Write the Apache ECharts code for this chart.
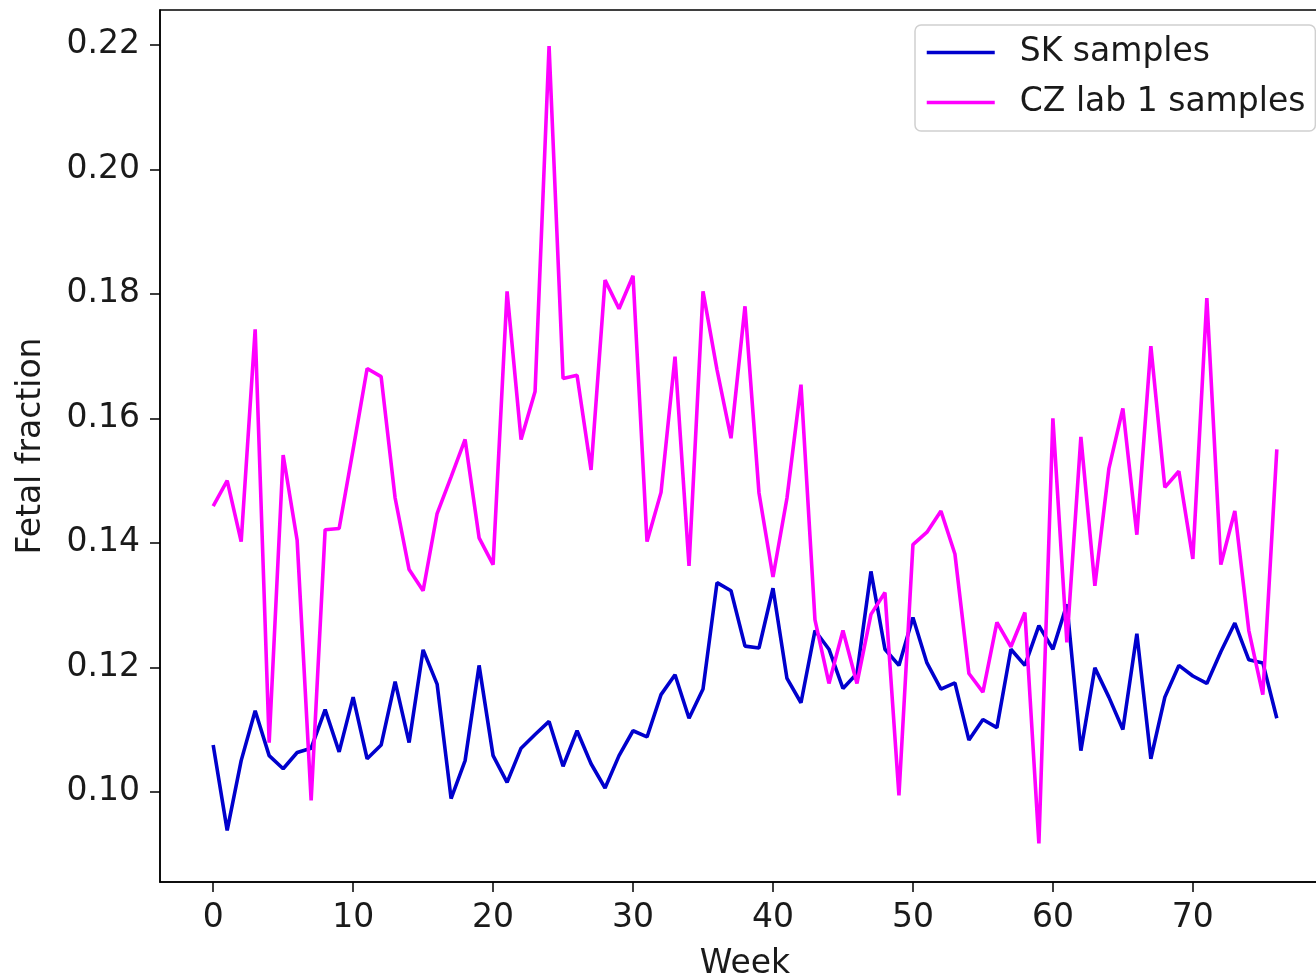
<!DOCTYPE html>
<html>
<head>
<meta charset="utf-8">
<script src="https://cdn.jsdelivr.net/npm/echarts@6/dist/echarts.min.js"></script>
<style>
  html, body { margin: 0; padding: 0; background: #fff; overflow: hidden; }
  /* the plot frame runs a little past the right edge of the window */
  #chart { width: 1332px; height: 979px; }
</style>
</head>
<body>
<div id="chart"></div>
<script>
// Weekly fetal fraction, two sample sources
const weeks = Array.from({ length: 77 }, (_, i) => i);

const skSamples = [
  0.1075, 0.0938, 0.1050, 0.1130, 0.1058, 0.1037, 0.1063, 0.1070, 0.1132, 0.1064,
  0.1152, 0.1053, 0.1075, 0.1177, 0.1079, 0.1228, 0.1173, 0.0989, 0.1050, 0.1203,
  0.1058, 0.1015, 0.1070, 0.1092, 0.1113, 0.1041, 0.1098, 0.1045, 0.1006, 0.1058,
  0.1098, 0.1088, 0.1156, 0.1188, 0.1118, 0.1165, 0.1336, 0.1323, 0.1234, 0.1231,
  0.1327, 0.1182, 0.1143, 0.1259, 0.1229, 0.1166, 0.1190, 0.1354, 0.1229, 0.1203,
  0.1280, 0.1207, 0.1165, 0.1175, 0.1083, 0.1116, 0.1103, 0.1229, 0.1203, 0.1267,
  0.1229, 0.1301, 0.1066, 0.1199, 0.1152, 0.1100, 0.1254, 0.1053, 0.1152, 0.1203,
  0.1186, 0.1174, 0.1225, 0.1271, 0.1212, 0.1207, 0.1118
];

const czLab1Samples = [
  0.1459, 0.1500, 0.1402, 0.1743, 0.1079, 0.1541, 0.1404, 0.0986, 0.1421, 0.1423,
  0.1550, 0.1680, 0.1667, 0.1472, 0.1357, 0.1323, 0.1447, 0.1506, 0.1566, 0.1408,
  0.1365, 0.1804, 0.1566, 0.1643, 0.2198, 0.1664, 0.1669, 0.1517, 0.1822, 0.1776,
  0.1829, 0.1402, 0.1481, 0.1699, 0.1363, 0.1804, 0.1678, 0.1568, 0.1780, 0.1480,
  0.1345, 0.1472, 0.1654, 0.1276, 0.1174, 0.1259, 0.1174, 0.1285, 0.1320, 0.0994,
  0.1397, 0.1417, 0.1451, 0.1382, 0.1190, 0.1160, 0.1272, 0.1233, 0.1288, 0.0917,
  0.1600, 0.1240, 0.1570, 0.1331, 0.1519, 0.1616, 0.1413, 0.1716, 0.1489, 0.1515,
  0.1374, 0.1793, 0.1365, 0.1451, 0.1259, 0.1156, 0.1550
];

const xTicks = [0, 10, 20, 30, 40, 50, 60, 70];
const yTicks = [0.10, 0.12, 0.14, 0.16, 0.18, 0.20, 0.22];

const FONT = 'DejaVu Sans';
const TEXT = '#1a1a1a';
const FS = 33;

const chart = echarts.init(document.getElementById('chart'), null, { renderer: 'canvas' });

chart.setOption({
  animation: false,
  backgroundColor: '#ffffff',
  grid: {
    left: 160, right: 2, top: 10, bottom: 97,
    outerBoundsMode: 'none', containLabel: false,
    show: true, borderColor: '#000', borderWidth: 1.5, backgroundColor: 'transparent'
  },
  legend: {
    orient: 'vertical',
    left: 915, top: 25,
    padding: [11, 10, 12, 10],
    itemWidth: 68, itemHeight: 33, itemGap: 17,
    backgroundColor: '#fff',
    borderColor: '#d0d0d0', borderWidth: 1.5, borderRadius: 6,
    itemStyle: { opacity: 0 },
    lineStyle: { width: 3.5 },
    textStyle: { fontFamily: FONT, fontSize: FS, color: TEXT, padding: [0, 0, 0, 20] },
    data: ['SK samples', 'CZ lab 1 samples']
  },
  xAxis: {
    type: 'value',
    min: -3.8, max: 79.8,
    name: 'Week', nameLocation: 'middle', nameGap: 66,
    nameTextStyle: { fontFamily: FONT, fontSize: FS, color: TEXT },
    axisLine: { show: true, onZero: false, lineStyle: { color: '#000', width: 1.5 } },
    splitLine: { show: false },
    axisTick: { show: true, length: 10, lineStyle: { color: '#000', width: 1.5 }, customValues: xTicks },
    axisLabel: { fontFamily: FONT, fontSize: FS, color: TEXT, margin: 20, customValues: xTicks,
      formatter: v => String(v) }
  },
  yAxis: {
    type: 'value',
    min: 0.0855, max: 0.2256,
    name: 'Fetal fraction', nameLocation: 'middle', nameGap: 112, nameRotate: 90,
    nameTextStyle: { fontFamily: FONT, fontSize: FS, color: TEXT },
    axisLine: { show: true, onZero: false, lineStyle: { color: '#000', width: 1.5 } },
    splitLine: { show: false },
    axisTick: { show: true, length: 10, lineStyle: { color: '#000', width: 1.5 }, customValues: yTicks },
    axisLabel: { fontFamily: FONT, fontSize: FS, color: TEXT, margin: 20, customValues: yTicks,
      formatter: v => v.toFixed(2) }
  },
  series: [
    {
      name: 'SK samples', type: 'line', symbol: 'none',
      data: weeks.map((w, i) => [w, skSamples[i]]),
      lineStyle: { color: '#0000cd', width: 3.6 },
      itemStyle: { color: '#0000cd' }
    },
    {
      name: 'CZ lab 1 samples', type: 'line', symbol: 'none',
      data: weeks.map((w, i) => [w, czLab1Samples[i]]),
      lineStyle: { color: '#ff00ff', width: 3.6 },
      itemStyle: { color: '#ff00ff' }
    }
  ]
});
</script>
</body>
</html>
